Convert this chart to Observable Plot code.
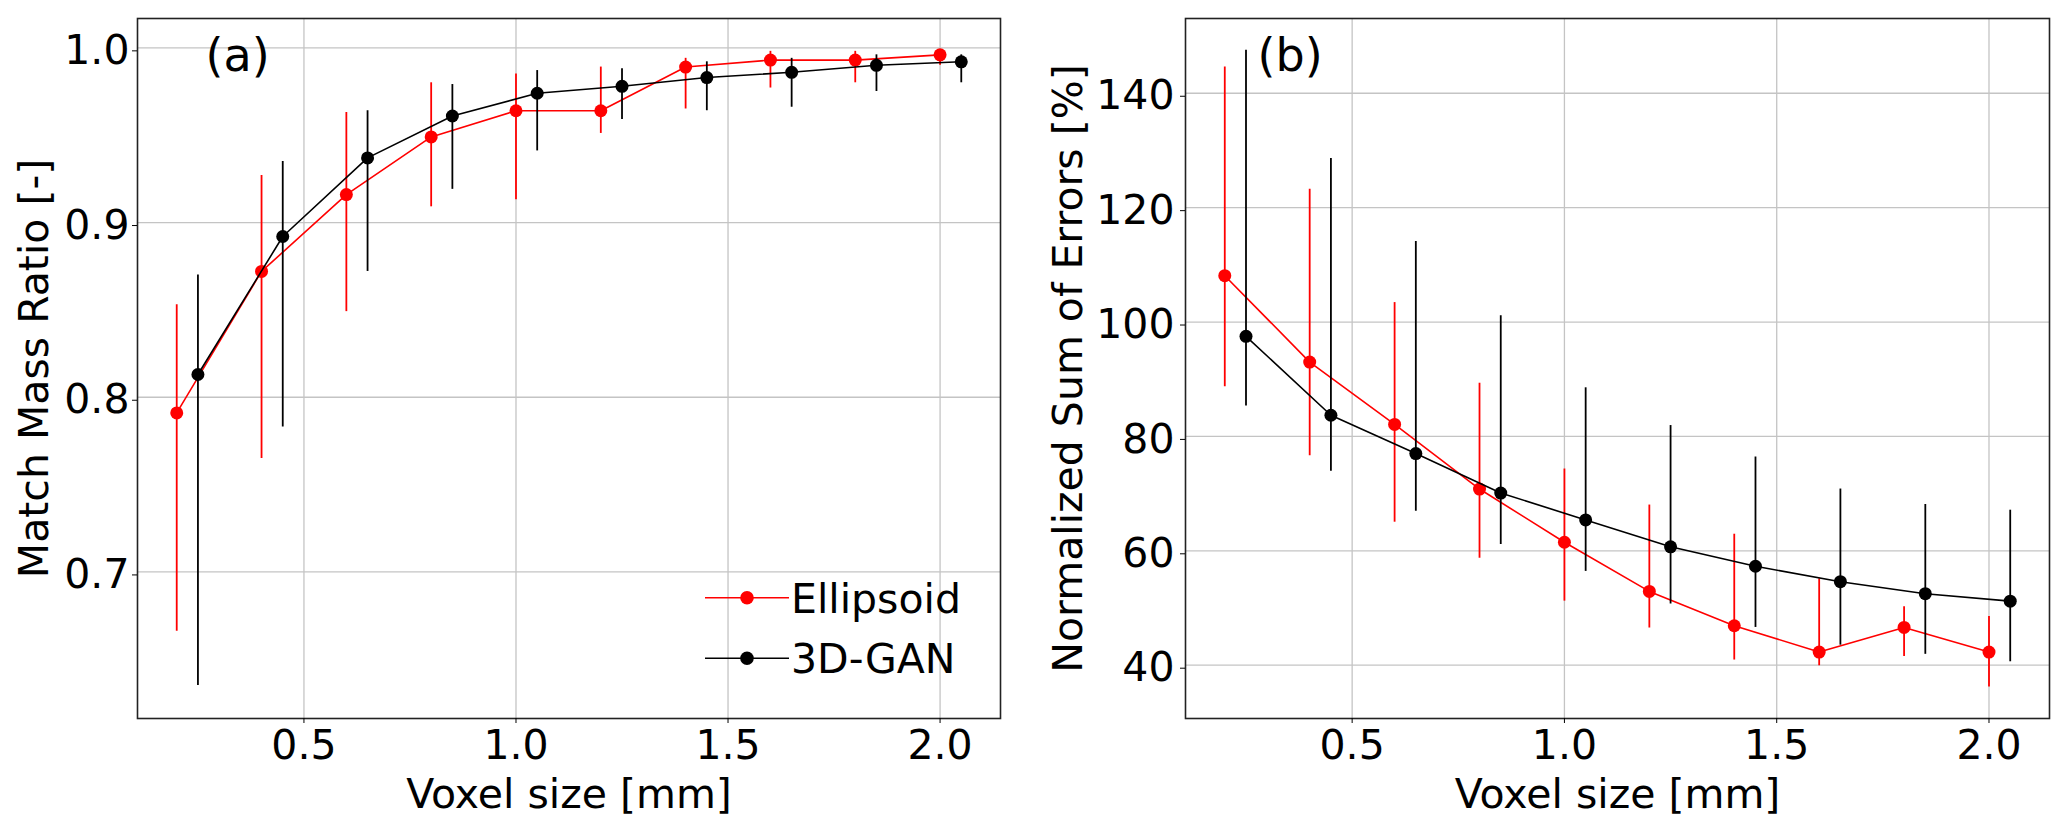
<!DOCTYPE html>
<html>
<head>
<meta charset="utf-8">
<script src="https://cdn.jsdelivr.net/npm/d3@7"></script>
<script src="https://cdn.jsdelivr.net/npm/@observablehq/plot@0.6"></script>
<style>
  body { margin: 0; background: white; }
  #wrap { position: relative; width: 2067px; height: 827px; background: white; }
  #wrap > * { position: absolute; top: 0; }
  #left { left: 0; }
  #right { left: 1034px; }
  #legend { left: 0; top: 0; pointer-events: none; }
</style>
</head>
<body>
<div id="wrap">
  <div id="left"></div>
  <div id="right"></div>
</div>
<script>
// voxel sizes (3D-GAN shifted a bit to the right in the figure)
const voxelEllipsoid = [0.2, 0.4, 0.6, 0.8, 1.0, 1.2, 1.4, 1.6, 1.8, 2.0]
const voxelGan = [0.25, 0.45, 0.65, 0.85, 1.05, 1.25, 1.45, 1.65, 1.85, 2.05]

// (a) match mass ratio
const massEllipsoid = [0.791, 0.872, 0.916, 0.949, 0.964, 0.964, 0.989, 0.993, 0.993, 0.996]
const massEllipsoidLo = [0.666, 0.765, 0.849, 0.909, 0.913, 0.951, 0.965, 0.977, 0.980, 0.990]
const massEllipsoidHi = [0.853, 0.927, 0.963, 0.980, 0.985, 0.989, 0.994, 0.998, 0.998, 0.999]
const massGan = [0.813, 0.892, 0.937, 0.961, 0.974, 0.978, 0.983, 0.986, 0.990, 0.992]
const massGanLo = [0.635, 0.783, 0.872, 0.919, 0.941, 0.959, 0.964, 0.966, 0.975, 0.980]
const massGanHi = [0.870, 0.935, 0.964, 0.979, 0.987, 0.988, 0.992, 0.994, 0.996, 0.996]

// (b) normalized sum of errors
const errEllipsoid = [108.1, 93.0, 82.1, 70.8, 61.5, 52.9, 46.9, 42.3, 46.6, 42.3]
const errEllipsoidLo = [88.7, 76.6, 65.0, 58.7, 51.2, 46.5, 40.9, 39.9, 41.5, 36.2]
const errEllipsoidHi = [144.6, 123.2, 103.4, 89.3, 74.3, 68.0, 62.9, 55.1, 50.2, 48.5]
const errGan = [97.5, 83.7, 77.0, 70.1, 65.4, 60.7, 57.3, 54.6, 52.5, 51.2]
const errGanLo = [85.3, 73.9, 66.9, 61.1, 56.4, 50.7, 46.6, 43.5, 41.9, 40.6]
const errGanHi = [147.5, 128.6, 114.1, 101.1, 88.5, 81.9, 76.4, 70.8, 68.1, 67.1]

const xTicks = [0.5, 1.0, 1.5, 2.0]
const massTicks = [0.7, 0.8, 0.9, 1.0]
const errTicks = [40, 60, 80, 100, 120, 140]

const series = ['Ellipsoid', '3D-GAN']
const colors = ['#ff0000', '#000000']

const rows = (xs, v, lo, hi) => xs.map((x, i) => ({x, v: v[i], lo: lo[i], hi: hi[i]}))

const massData = [
  rows(voxelEllipsoid, massEllipsoid, massEllipsoidLo, massEllipsoidHi),
  rows(voxelGan, massGan, massGanLo, massGanHi)
]
const errData = [
  rows(voxelEllipsoid, errEllipsoid, errEllipsoidLo, errEllipsoidHi),
  rows(voxelGan, errGan, errGanLo, errGanHi)
]

const font = 'DejaVu Sans'
const fs = 41

function panel({data, width, marginLeft, marginRight, yDomain, yTicks, yFormat, yLabel, yLabelDx, tickPad, tag, tagDx}) {
  const marks = [
    Plot.gridX(xTicks, {stroke: '#c4c4c4', strokeOpacity: 1, strokeWidth: 1.3}),
    Plot.gridY(yTicks, {stroke: '#c4c4c4', strokeOpacity: 1, strokeWidth: 1.3}),
  ]
  data.forEach((d, k) => {
    marks.push(
      Plot.ruleX(d, {x: 'x', y1: 'lo', y2: 'hi', stroke: colors[k], strokeWidth: 1.8}),
      Plot.line(d, {x: 'x', y: 'v', stroke: colors[k], strokeWidth: 1.6}),
      Plot.dot(d, {x: 'x', y: 'v', r: 6.5, fill: colors[k], stroke: 'none'})
    )
  })
  marks.push(
    Plot.frame({stroke: '#222', strokeWidth: 1.6}),
    Plot.axisX({ticks: xTicks, tickFormat: d3.format('.1f'), tickSize: 5, tickPadding: 6, label: null}),
    Plot.axisY({ticks: yTicks, tickFormat: yFormat, tickSize: 5, tickPadding: tickPad, dy: 3, label: null}),
    Plot.text(['Voxel size [mm]'], {text: d => d, frameAnchor: 'bottom', dy: 89, lineAnchor: 'bottom', fontSize: fs}),
    Plot.text([yLabel], {text: d => d, frameAnchor: 'left', rotate: -90, dx: yLabelDx, textAnchor: 'middle', lineAnchor: 'bottom', fontSize: fs}),
    Plot.text([tag], {text: d => d, frameAnchor: 'top-left', dx: tagDx, dy: 52, textAnchor: 'start', lineAnchor: 'bottom', fontSize: 46})
  )
  return Plot.plot({
    width,
    height: 827,
    marginLeft,
    marginRight,
    marginTop: 18,
    marginBottom: 109,
    style: {fontFamily: font, fontSize: fs + 'px', background: 'white', color: 'black'},
    x: {domain: [0.1075, 2.1425]},
    y: {domain: yDomain},
    marks
  })
}

const left = panel({
  data: massData, width: 1034, marginLeft: 137, marginRight: 34,
  yDomain: [0.6161, 1.0168], yTicks: massTicks, yFormat: d3.format('.1f'),
  yLabel: 'Match Mass Ratio [-]', yLabelDx: -90, tickPad: 3, tag: '(a)', tagDx: 68
})
const right = panel({
  data: errData, width: 1033, marginLeft: 151, marginRight: 18,
  yDomain: [30.68, 153.07], yTicks: errTicks, yFormat: d3.format('d'),
  yLabel: 'Normalized Sum of Errors [%]', yLabelDx: -104, tickPad: 6, tag: '(b)', tagDx: 72
})

d3.select('#left').append(() => left)
d3.select('#right').append(() => right)

// legend, lower right of panel (a)
const legend = d3.select('#wrap').append('svg')
  .attr('id', 'legend').attr('width', 2067).attr('height', 827)
  .style('font-family', font).style('font-size', fs + 'px')
series.forEach((s, k) => {
  const y = 597.7 + k * 60.6
  legend.append('line').attr('x1', 705).attr('x2', 789).attr('y1', y).attr('y2', y)
    .attr('stroke', colors[k]).attr('stroke-width', 1.6)
  legend.append('circle').attr('cx', 747).attr('cy', y).attr('r', 6.8).attr('fill', colors[k])
  legend.append('text').attr('x', 791).attr('y', y + 14.8).text(s)
})
</script>
</body>
</html>
